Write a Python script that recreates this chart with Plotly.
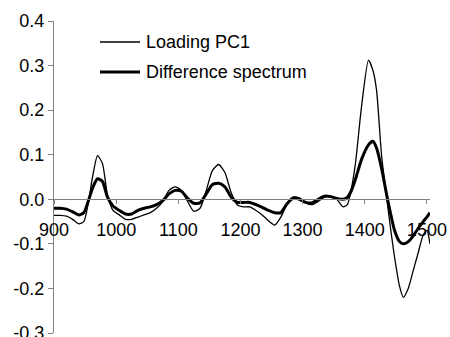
import plotly.graph_objects as go

wavenumber = [900, 910, 920, 930, 940, 948, 955, 962, 970, 978, 986, 995, 1005, 1015, 1025, 1035,
              1045, 1055, 1065, 1075, 1085, 1095, 1105, 1115, 1125, 1135, 1145, 1155, 1165, 1175,
              1185, 1195, 1205, 1215, 1225, 1235, 1245, 1255, 1265, 1275, 1285, 1295, 1305, 1315,
              1325, 1335, 1345, 1355, 1365, 1372, 1378, 1385, 1395, 1406, 1413, 1419, 1427,
              1436, 1442, 1448, 1456, 1462, 1470, 1478, 1486, 1494, 1500, 1505]

loading_pc1 = [-0.036, -0.036, -0.038, -0.045, -0.055, -0.05, -0.01, 0.05, 0.098, 0.08, 0.01,
               -0.025, -0.035, -0.045, -0.045, -0.04, -0.035, -0.03, -0.02, -0.005, 0.02, 0.028,
               0.02, -0.005, -0.027, -0.02, 0.02, 0.065, 0.078, 0.06, 0.015, -0.013, -0.017,
               -0.017, -0.025, -0.035, -0.048, -0.058, -0.04, -0.01, 0.005, 0.003, -0.008, -0.012,
               -0.005, 0.005, 0.007, 0.0, -0.017, -0.012, 0.02, 0.08, 0.21, 0.312, 0.29, 0.245,
               0.1, -0.005, -0.07, -0.13, -0.195, -0.22, -0.2, -0.16, -0.12, -0.08, -0.07, -0.1]

difference = [-0.02, -0.02, -0.022, -0.028, -0.035, -0.03, -0.005, 0.025, 0.046, 0.04, 0.005,
              -0.015, -0.025, -0.033, -0.033, -0.025, -0.02, -0.017, -0.012, -0.003, 0.012, 0.02,
              0.018, 0.002, -0.009, -0.008, 0.012, 0.033, 0.036, 0.028, 0.005, -0.007, -0.007,
              -0.007, -0.012, -0.018, -0.025, -0.03, -0.03, -0.01, 0.003, 0.0, -0.007, -0.008,
              0.0, 0.007, 0.006, 0.002, 0.0, 0.004, 0.018, 0.045, 0.09, 0.122, 0.13, 0.115,
              0.07, 0.005, -0.035, -0.07, -0.095, -0.1, -0.095, -0.082, -0.065, -0.05,
              -0.04, -0.03]

x_ticks = [900, 1000, 1100, 1200, 1300, 1400, 1500]
y_ticks = [-0.3, -0.2, -0.1, 0.0, 0.1, 0.2, 0.3, 0.4]
y_tick_text = ["-0.3", "-0.2", "-0.1", "0.0", "0.1", "0.2", "0.3", "0.4"]
series_names = ["Loading PC1", "Difference spectrum"]

FONT = "Liberation Sans, Arial, sans-serif"
W, H = 450, 337
L, R, T, B = 54, 20, 21, 4
pw, ph = W - L - R, H - T - B

def px(p):
    return (p - L) / pw

def py(p):
    return (H - B - p) / ph

fig = go.Figure()
fig.add_trace(go.Scatter(x=wavenumber, y=loading_pc1, mode="lines", name=series_names[0],
                         line=dict(color="black", width=1.3, shape="spline", smoothing=0.6)))
fig.add_trace(go.Scatter(x=wavenumber, y=difference, mode="lines", name=series_names[1],
                         line=dict(color="black", width=3, shape="spline", smoothing=0.6)))

shapes = []
annotations = []
for i, (name, w) in enumerate(zip(series_names, [1.3, 3])):
    yy = py(42 + 30 * i)
    shapes.append(dict(type="line", xref="paper", yref="paper", x0=px(100), x1=px(140),
                       y0=yy, y1=yy, line=dict(color="black", width=w)))
    annotations.append(dict(xref="paper", yref="paper", x=px(144), y=yy, text=name,
                            showarrow=False, xanchor="left", yanchor="middle",
                            font=dict(family=FONT, size=18, color="black")))

fig.update_layout(
    width=W, height=H,
    margin=dict(l=L, r=R, t=T, b=B, autoexpand=False),
    paper_bgcolor="white", plot_bgcolor="white",
    showlegend=False,
    shapes=shapes, annotations=annotations,
    font=dict(family=FONT, size=18, color="black"),
    xaxis=dict(range=[900, 1505], tickvals=x_ticks, ticks="outside", ticklen=4,
               tickcolor="#808080", showline=True, linecolor="#808080", linewidth=1,
               showgrid=False, zeroline=False, anchor="free", position=0.3 / 0.7,
               ticklabelstandoff=10, automargin=False,
               tickfont=dict(family=FONT, size=18, color="black")),
    yaxis=dict(range=[-0.3, 0.4], tickvals=y_ticks, ticktext=y_tick_text, ticks="outside",
               ticklen=5, tickcolor="#808080", showline=True, linecolor="#808080", linewidth=1,
               showgrid=False, zeroline=False, ticklabeloverflow="allow", automargin=False,
               tickfont=dict(family=FONT, size=18, color="black")),
)

fig.write_html("out.html")
